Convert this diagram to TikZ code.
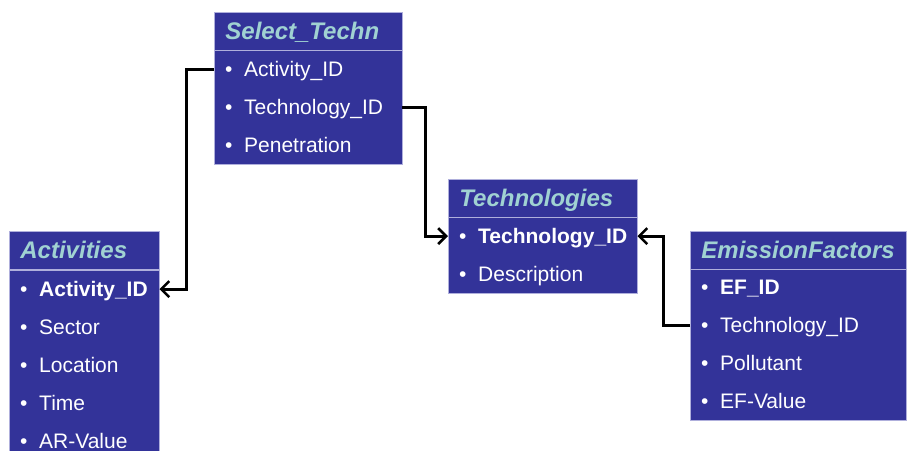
\documentclass[tikz,border=0pt]{standalone}
\usepackage{fontspec}
\setmainfont{Liberation Sans}
\usepackage{tikz}
\usetikzlibrary{arrows.meta,backgrounds}

\definecolor{tblue}{RGB}{51,51,153}
\definecolor{thead}{RGB}{160,210,210}
\definecolor{tedge}{RGB}{175,175,220}

\newcommand{\itm}[1]{\makebox[19pt][l]{\textbullet}#1}

\begin{document}
\begin{tikzpicture}
[x=1pt,y=-1pt,
  head/.style={fill=tblue,draw=tedge,line width=0.8pt,text=thead,anchor=north west,
    font=\fontsize{24}{28}\selectfont\bfseries\itshape,text width=#1,align=left,
    inner xsep=11pt,inner ysep=0pt,minimum height=38pt,text height=19pt,text depth=3pt},
  row/.style={text=white,anchor=north west,
    font=\fontsize{21}{25}\selectfont,text width=#1,align=left,
    inner xsep=11pt,inner ysep=0pt,minimum height=37.8pt,text height=17pt,text depth=3pt},
  frame/.style={fill=tblue,draw=tedge,line width=0.8pt},
  link/.style={-{Straight Barb[length=8pt,width=16pt,line width=2.6pt]},line width=3pt,black}]
  \useasboundingbox (0,0) rectangle (907,450);

  % Activities
  \node[head=128pt] (actH) at (9,231) {Activities};
  \node[row=128pt] (actR1) at (9,270) {\itm{\textbf{Activity\_ID}}};
  \node[row=128pt] (actR2) at (actR1.south west) {\itm{Sector}};
  \node[row=128pt] (actR3) at (actR2.south west) {\itm{Location}};
  \node[row=128pt] (actR4) at (actR3.south west) {\itm{Time}};
  \node[row=128pt] (actR5) at (actR4.south west) {\itm{AR-Value}};

  % Select_Techn
  \node[head=166pt] (selH) at (214,12) {Select\_Techn};
  \node[row=166pt] (selR1) at (214,50) {\itm{Activity\_ID}};
  \node[row=166pt] (selR2) at (selR1.south west) {\itm{Technology\_ID}};
  \node[row=166pt] (selR3) at (selR2.south west) {\itm{Penetration}};

  % Technologies
  \node[head=167pt] (tecH) at (448,179) {Technologies};
  \node[row=167pt] (tecR1) at (448,217) {\itm{\textbf{Technology\_ID}}};
  \node[row=167pt] (tecR2) at (tecR1.south west) {\itm{Description}};

  % EmissionFactors
  \node[head=194pt] (emiH) at (690,231) {EmissionFactors};
  \node[row=194pt] (emiR1) at (690,268) {\itm{\textbf{EF\_ID}}};
  \node[row=194pt] (emiR2) at (emiR1.south west) {\itm{Technology\_ID}};
  \node[row=194pt] (emiR3) at (emiR2.south west) {\itm{Pollutant}};
  \node[row=194pt] (emiR4) at (emiR3.south west) {\itm{EF-Value}};

  % table bodies
  \begin{scope}[on background layer]
    \draw[frame] (actR1.north west) rectangle (actR5.south east);
    \draw[frame] (selR1.north west) rectangle (selR3.south east);
    \draw[frame] (tecR1.north west) rectangle (tecR2.south east);
    \draw[frame] (emiR1.north west) rectangle (emiR4.south east);
  \end{scope}

  % keys
  \draw[link] (selR1.west) -- ++(-28,0) |- (actR1.east);
  \draw[link] (selR2.east) -- ++(23,0) |- (tecR1.west);
  \draw[link] (emiR2.west) -- ++(-27,0) |- (tecR1.east);
\end{tikzpicture}
\end{document}
